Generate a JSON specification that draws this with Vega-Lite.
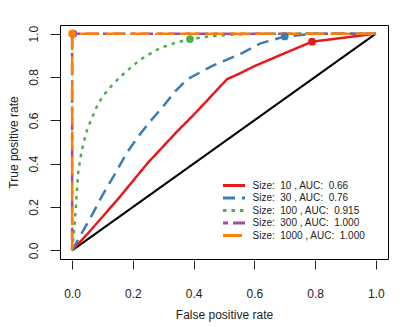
{
  "$schema": "https://vega.github.io/schema/vega-lite/v6.json",
  "width": 328,
  "height": 234,
  "autosize": {"type": "none"},
  "padding": {"left": 60, "top": 25, "right": 21, "bottom": 68},
  "background": "white",
  "config": {
    "view": {"stroke": "black", "strokeWidth": 1},
    "font": "Liberation Sans"
  },
  "datasets": {
    "curves": [
      {"label": "Size:\u00a0 10 , AUC:\u00a0 0.66", "x": 0, "y": 0, "o": 0},
      {"label": "Size:\u00a0 10 , AUC:\u00a0 0.66", "x": 0.05, "y": 0.075, "o": 1},
      {"label": "Size:\u00a0 10 , AUC:\u00a0 0.66", "x": 0.1, "y": 0.155, "o": 2},
      {"label": "Size:\u00a0 10 , AUC:\u00a0 0.66", "x": 0.15, "y": 0.235, "o": 3},
      {"label": "Size:\u00a0 10 , AUC:\u00a0 0.66", "x": 0.2, "y": 0.32, "o": 4},
      {"label": "Size:\u00a0 10 , AUC:\u00a0 0.66", "x": 0.25, "y": 0.405, "o": 5},
      {"label": "Size:\u00a0 10 , AUC:\u00a0 0.66", "x": 0.3, "y": 0.48, "o": 6},
      {"label": "Size:\u00a0 10 , AUC:\u00a0 0.66", "x": 0.35, "y": 0.555, "o": 7},
      {"label": "Size:\u00a0 10 , AUC:\u00a0 0.66", "x": 0.4, "y": 0.625, "o": 8},
      {"label": "Size:\u00a0 10 , AUC:\u00a0 0.66", "x": 0.45, "y": 0.7, "o": 9},
      {"label": "Size:\u00a0 10 , AUC:\u00a0 0.66", "x": 0.51, "y": 0.79, "o": 10},
      {"label": "Size:\u00a0 10 , AUC:\u00a0 0.66", "x": 0.55, "y": 0.815, "o": 11},
      {"label": "Size:\u00a0 10 , AUC:\u00a0 0.66", "x": 0.6, "y": 0.85, "o": 12},
      {"label": "Size:\u00a0 10 , AUC:\u00a0 0.66", "x": 0.65, "y": 0.88, "o": 13},
      {"label": "Size:\u00a0 10 , AUC:\u00a0 0.66", "x": 0.7, "y": 0.91, "o": 14},
      {"label": "Size:\u00a0 10 , AUC:\u00a0 0.66", "x": 0.79, "y": 0.963, "o": 15},
      {"label": "Size:\u00a0 10 , AUC:\u00a0 0.66", "x": 1, "y": 1, "o": 16},
      {"label": "Size:\u00a0 30 , AUC:\u00a0 0.76", "x": 0, "y": 0, "o": 0},
      {"label": "Size:\u00a0 30 , AUC:\u00a0 0.76", "x": 0.03, "y": 0.075, "o": 1},
      {"label": "Size:\u00a0 30 , AUC:\u00a0 0.76", "x": 0.07, "y": 0.175, "o": 2},
      {"label": "Size:\u00a0 30 , AUC:\u00a0 0.76", "x": 0.1, "y": 0.255, "o": 3},
      {"label": "Size:\u00a0 30 , AUC:\u00a0 0.76", "x": 0.14, "y": 0.35, "o": 4},
      {"label": "Size:\u00a0 30 , AUC:\u00a0 0.76", "x": 0.18, "y": 0.45, "o": 5},
      {"label": "Size:\u00a0 30 , AUC:\u00a0 0.76", "x": 0.22, "y": 0.53, "o": 6},
      {"label": "Size:\u00a0 30 , AUC:\u00a0 0.76", "x": 0.26, "y": 0.6, "o": 7},
      {"label": "Size:\u00a0 30 , AUC:\u00a0 0.76", "x": 0.3, "y": 0.665, "o": 8},
      {"label": "Size:\u00a0 30 , AUC:\u00a0 0.76", "x": 0.34, "y": 0.735, "o": 9},
      {"label": "Size:\u00a0 30 , AUC:\u00a0 0.76", "x": 0.38, "y": 0.79, "o": 10},
      {"label": "Size:\u00a0 30 , AUC:\u00a0 0.76", "x": 0.42, "y": 0.82, "o": 11},
      {"label": "Size:\u00a0 30 , AUC:\u00a0 0.76", "x": 0.46, "y": 0.85, "o": 12},
      {"label": "Size:\u00a0 30 , AUC:\u00a0 0.76", "x": 0.51, "y": 0.88, "o": 13},
      {"label": "Size:\u00a0 30 , AUC:\u00a0 0.76", "x": 0.56, "y": 0.91, "o": 14},
      {"label": "Size:\u00a0 30 , AUC:\u00a0 0.76", "x": 0.62, "y": 0.955, "o": 15},
      {"label": "Size:\u00a0 30 , AUC:\u00a0 0.76", "x": 0.7, "y": 0.987, "o": 16},
      {"label": "Size:\u00a0 30 , AUC:\u00a0 0.76", "x": 0.8, "y": 1, "o": 17},
      {"label": "Size:\u00a0 30 , AUC:\u00a0 0.76", "x": 1, "y": 1, "o": 18},
      {"label": "Size:\u00a0 100 , AUC:\u00a0 0.915", "x": 0, "y": 0, "o": 0},
      {"label": "Size:\u00a0 100 , AUC:\u00a0 0.915", "x": 0.005, "y": 0.07, "o": 1},
      {"label": "Size:\u00a0 100 , AUC:\u00a0 0.915", "x": 0.01, "y": 0.15, "o": 2},
      {"label": "Size:\u00a0 100 , AUC:\u00a0 0.915", "x": 0.015, "y": 0.26, "o": 3},
      {"label": "Size:\u00a0 100 , AUC:\u00a0 0.915", "x": 0.02, "y": 0.36, "o": 4},
      {"label": "Size:\u00a0 100 , AUC:\u00a0 0.915", "x": 0.03, "y": 0.45, "o": 5},
      {"label": "Size:\u00a0 100 , AUC:\u00a0 0.915", "x": 0.04, "y": 0.51, "o": 6},
      {"label": "Size:\u00a0 100 , AUC:\u00a0 0.915", "x": 0.05, "y": 0.56, "o": 7},
      {"label": "Size:\u00a0 100 , AUC:\u00a0 0.915", "x": 0.065, "y": 0.61, "o": 8},
      {"label": "Size:\u00a0 100 , AUC:\u00a0 0.915", "x": 0.08, "y": 0.66, "o": 9},
      {"label": "Size:\u00a0 100 , AUC:\u00a0 0.915", "x": 0.1, "y": 0.71, "o": 10},
      {"label": "Size:\u00a0 100 , AUC:\u00a0 0.915", "x": 0.13, "y": 0.76, "o": 11},
      {"label": "Size:\u00a0 100 , AUC:\u00a0 0.915", "x": 0.158, "y": 0.8, "o": 12},
      {"label": "Size:\u00a0 100 , AUC:\u00a0 0.915", "x": 0.19, "y": 0.84, "o": 13},
      {"label": "Size:\u00a0 100 , AUC:\u00a0 0.915", "x": 0.224, "y": 0.88, "o": 14},
      {"label": "Size:\u00a0 100 , AUC:\u00a0 0.915", "x": 0.26, "y": 0.91, "o": 15},
      {"label": "Size:\u00a0 100 , AUC:\u00a0 0.915", "x": 0.29, "y": 0.934, "o": 16},
      {"label": "Size:\u00a0 100 , AUC:\u00a0 0.915", "x": 0.34, "y": 0.958, "o": 17},
      {"label": "Size:\u00a0 100 , AUC:\u00a0 0.915", "x": 0.388, "y": 0.975, "o": 18},
      {"label": "Size:\u00a0 100 , AUC:\u00a0 0.915", "x": 0.45, "y": 0.987, "o": 19},
      {"label": "Size:\u00a0 100 , AUC:\u00a0 0.915", "x": 0.5, "y": 0.993, "o": 20},
      {"label": "Size:\u00a0 100 , AUC:\u00a0 0.915", "x": 0.6, "y": 1, "o": 21},
      {"label": "Size:\u00a0 100 , AUC:\u00a0 0.915", "x": 1, "y": 1, "o": 22},
      {"label": "Size:\u00a0 300 , AUC:\u00a0 1.000", "x": 0, "y": 0, "o": 0},
      {"label": "Size:\u00a0 300 , AUC:\u00a0 1.000", "x": 0, "y": 1, "o": 1},
      {"label": "Size:\u00a0 300 , AUC:\u00a0 1.000", "x": 1, "y": 1, "o": 2},
      {"label": "Size:\u00a0 1000 , AUC:\u00a0 1.000", "x": 0, "y": 0, "o": 0},
      {"label": "Size:\u00a0 1000 , AUC:\u00a0 1.000", "x": 0, "y": 1, "o": 1},
      {"label": "Size:\u00a0 1000 , AUC:\u00a0 1.000", "x": 1, "y": 1, "o": 2}
    ],
    "diag": [
      {"x": 0, "y": 0},
      {"x": 1, "y": 1}
    ],
    "pts": [
      {"label": "Size:\u00a0 10 , AUC:\u00a0 0.66", "x": 0.79, "y": 0.963},
      {"label": "Size:\u00a0 30 , AUC:\u00a0 0.76", "x": 0.70, "y": 0.987},
      {"label": "Size:\u00a0 100 , AUC:\u00a0 0.915", "x": 0.388, "y": 0.975},
      {"label": "Size:\u00a0 300 , AUC:\u00a0 1.000", "x": 0.004, "y": 1},
      {"label": "Size:\u00a0 1000 , AUC:\u00a0 1.000", "x": 0, "y": 1}
    ]
  },
  "encoding": {
    "x": {
      "field": "x", "type": "quantitative",
      "scale": {"domain": [-0.04, 1.04], "nice": false, "zero": false},
      "axis": {
        "title": "False positive rate",
        "values": [0, 0.2, 0.4, 0.6, 0.8, 1],
        "format": ".1f",
        "domain": false, "grid": false,
        "offset": 1, "tickSize": 9, "tickColor": "#222", "tickWidth": 1,
        "labelFont": "Liberation Sans", "labelFontSize": 12, "labelColor": "#222",
        "labelBaseline": "middle", "labelPadding": 24,
        "titleFont": "Liberation Sans", "titleFontSize": 12, "titleFontWeight": "normal", "titleColor": "#222",
        "titleX": 164, "titleY": 54, "titleBaseline": "middle"
      }
    },
    "y": {
      "field": "y", "type": "quantitative",
      "scale": {"domain": [-0.04, 1.04], "nice": false, "zero": false},
      "axis": {
        "title": "True positive rate",
        "values": [0, 0.2, 0.4, 0.6, 0.8, 1],
        "format": ".1f",
        "domain": false, "grid": false,
        "tickSize": 10, "tickColor": "#222", "tickWidth": 1,
        "labelFont": "Liberation Sans", "labelFontSize": 12, "labelColor": "#222",
        "labelAngle": -90, "labelAlign": "center", "labelBaseline": "middle", "labelPadding": 17,
        "titleFont": "Liberation Sans", "titleFontSize": 12, "titleFontWeight": "normal", "titleColor": "#222",
        "titleX": -47, "titleY": 117, "titleBaseline": "middle", "titleAngle": -90
      }
    }
  },
  "layer": [
    {
      "data": {"name": "diag"},
      "mark": {"type": "line", "color": "black", "strokeWidth": 2},
      "encoding": {}
    },
    {
      "data": {"name": "curves"},
      "mark": {"type": "line", "strokeWidth": 2.5, "strokeCap": "butt"},
      "encoding": {
        "order": {"field": "o", "type": "quantitative"},
        "color": {
          "field": "label", "type": "nominal",
          "scale": {
            "domain": ["Size:\u00a0 10 , AUC:\u00a0 0.66", "Size:\u00a0 30 , AUC:\u00a0 0.76", "Size:\u00a0 100 , AUC:\u00a0 0.915", "Size:\u00a0 300 , AUC:\u00a0 1.000", "Size:\u00a0 1000 , AUC:\u00a0 1.000"],
            "range": ["#E41A1C", "#377EB8", "#4DAF4A", "#984EA3", "#FF7F00"]
          },
          "legend": {
            "title": null,
            "orient": "none", "legendX": 168.5, "legendY": 155,
            "symbolType": "M-2.75,0H2.75", "symbolStrokeWidth": 3, "symbolSize": 64,
            "labelFont": "Liberation Sans", "labelFontSize": 10, "labelColor": "#222",
            "labelOffset": 13, "rowPadding": -0.5, "padding": 0
          }
        },
        "strokeDash": {
          "field": "label", "type": "nominal",
          "scale": {
            "domain": ["Size:\u00a0 10 , AUC:\u00a0 0.66", "Size:\u00a0 30 , AUC:\u00a0 0.76", "Size:\u00a0 100 , AUC:\u00a0 0.915", "Size:\u00a0 300 , AUC:\u00a0 1.000", "Size:\u00a0 1000 , AUC:\u00a0 1.000"],
            "range": [[1, 0], [12, 7], [3.5, 5], [5, 5, 12.5, 5], [19, 6]]
          },
          "legend": null
        }
      }
    },
    {
      "data": {"name": "pts"},
      "mark": {"type": "point", "filled": true, "size": 60, "opacity": 1},
      "encoding": {
        "color": {"field": "label", "type": "nominal", "legend": null}
      }
    }
  ]
}
